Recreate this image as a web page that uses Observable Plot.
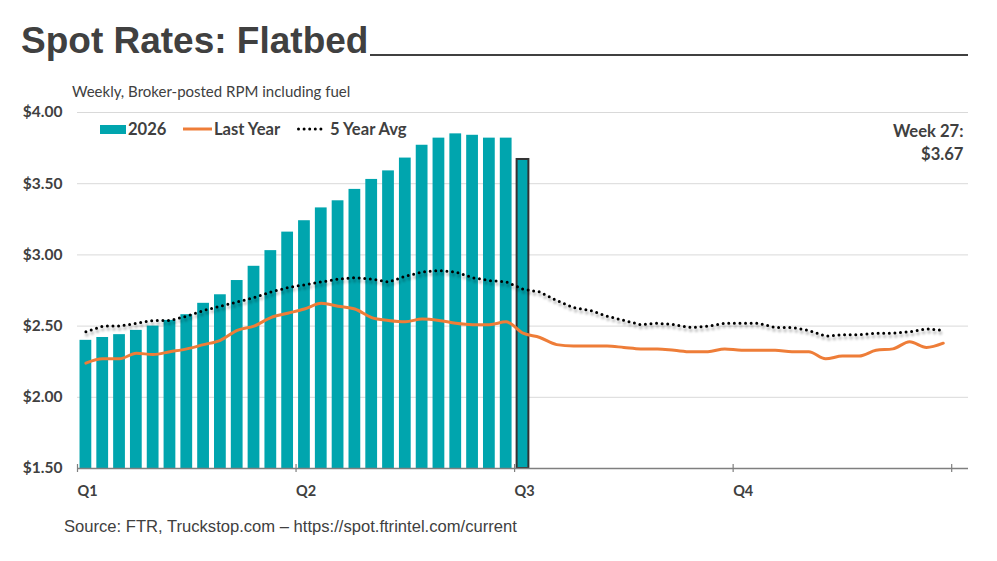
<!DOCTYPE html>
<html>
<head>
<meta charset="utf-8">
<script src="https://cdn.jsdelivr.net/npm/d3@7"></script>
<script src="https://cdn.jsdelivr.net/npm/@observablehq/plot@0.6"></script>
<style>
  html, body { margin: 0; padding: 0; background: #fff; }
  #page { position: relative; width: 997px; height: 561px; overflow: hidden; color: #404040; font-family: Lato, "Open Sans", sans-serif; }
  #title { position: absolute; left: 21px; top: 19px; font: bold 37px "Liberation Sans", Arial, sans-serif; line-height: 44px; white-space: nowrap; color: #404040; }
  #rule { position: absolute; top: 54px; height: 0; border-top: 2px solid #404040; }
  #subtitle { position: absolute; left: 72px; top: 82px; font-size: 15px; line-height: 19px; white-space: nowrap; }
  #chart { position: absolute; left: 0; top: 100px; }
  .leg { position: absolute; top: 120px; height: 18px; display: flex; align-items: center; font-weight: bold; font-size: 16.6px; white-space: nowrap; }
  .leg svg { margin-right: 2px; }
  #source { position: absolute; left: 64px; top: 516px; font: 16.6px "Liberation Sans", Arial, sans-serif; line-height: 22px; white-space: nowrap; }
</style>
</head>
<body>
<div id="page">
  <div id="title">Spot Rates: Flatbed</div>
  <div id="rule"></div>
  <div id="subtitle">Weekly, Broker-posted RPM including fuel</div>
  <div id="chart"></div>
  <div class="leg" style="left:100px"><svg width="26" height="18"><rect x="0" y="5" width="26" height="9" fill="#00A5AE"/></svg><span>2026</span></div>
  <div class="leg" style="left:183px"><svg width="29" height="18"><line x1="0" x2="29" y1="9" y2="9" stroke="#EE7D38" stroke-width="3"/></svg><span>Last Year</span></div>
  <div class="leg" style="left:297px"><svg width="31" height="18"><line x1="1.5" x2="28" y1="9" y2="9" stroke="#000" stroke-width="3" stroke-linecap="round" stroke-dasharray="0 5.6"/></svg><span>5 Year Avg</span></div>
  <div id="source">Source: FTR, Truckstop.com – https://spot.ftrintel.com/current</div>
</div>
<script>
// Weekly broker-posted flatbed spot rates (USD per mile, incl. fuel)
const spot2026 = [2.40, 2.42, 2.44, 2.47, 2.50, 2.54, 2.58, 2.66, 2.72, 2.82, 2.92, 3.03, 3.16,
                  3.24, 3.33, 3.38, 3.46, 3.53, 3.59, 3.68, 3.77, 3.82, 3.85, 3.84, 3.82, 3.82, 3.67];

const lastYear = [2.24, 2.27, 2.27, 2.31, 2.30, 2.32, 2.34, 2.37, 2.40, 2.47, 2.50, 2.56, 2.59,
                  2.62, 2.66, 2.64, 2.62, 2.56, 2.54, 2.53, 2.55, 2.54, 2.52, 2.51, 2.51, 2.53,
                  2.45, 2.42, 2.37, 2.36, 2.36, 2.36, 2.35, 2.34, 2.34, 2.33, 2.32, 2.32, 2.34,
                  2.33, 2.33, 2.33, 2.32, 2.32, 2.27, 2.29, 2.29, 2.33, 2.34, 2.39, 2.35, 2.38];

const fiveYearAvg = [2.46, 2.50, 2.50, 2.52, 2.54, 2.54, 2.57, 2.61, 2.64, 2.67, 2.70, 2.74, 2.77,
                     2.79, 2.81, 2.83, 2.84, 2.83, 2.81, 2.85, 2.88, 2.89, 2.88, 2.84, 2.82, 2.81,
                     2.76, 2.74, 2.68, 2.63, 2.61, 2.57, 2.54, 2.51, 2.52, 2.51, 2.49, 2.50, 2.52,
                     2.52, 2.52, 2.49, 2.49, 2.47, 2.43, 2.44, 2.44, 2.45, 2.45, 2.46, 2.48, 2.47];

const yTicks = [1.5, 2.0, 2.5, 3.0, 3.5, 4.0];
const quarterLabels = ["Q1", "Q2", "Q3", "Q4"];
const weeksPerQuarter = 13;

const teal = "#00A5AE";
const orange = "#EE7D38";
const ink = "#404040";
const axisGray = "#7f7f7f";

const toRows = arr => arr.map((value, i) => ({week: i + 1, value}));
const bars = toRows(spot2026);
const latest = bars[bars.length - 1];
const prior = toRows(lastYear);
const avg = toRows(fiveYearAvg);

const quarterBounds = d3.range(0, 4 * weeksPerQuarter + 1, weeksPerQuarter);
const quarterStarts = quarterBounds.slice(0, 4);

// week n occupies the interval [n-1, n]; marks sit at its midpoint
const mid = d => d.week - 0.5;
const half = 0.35;

const chart = Plot.plot({
  width: 997,
  height: 410,
  marginTop: 12,
  marginBottom: 42,
  marginLeft: 77,
  marginRight: 29,
  style: {fontFamily: "Lato, 'Open Sans', sans-serif", color: ink, background: "transparent", overflow: "visible"},
  x: {domain: [0, 4 * weeksPerQuarter + 1]},
  y: {domain: [yTicks[0], yTicks[yTicks.length - 1]]},
  marks: [
    Plot.gridY({ticks: yTicks, stroke: "#d9d9d9", strokeOpacity: 1}),
    Plot.axisY({ticks: yTicks, tickSize: 0, tickPadding: 15, label: null,
                tickFormat: d => "$" + d.toFixed(2), fontSize: 15.5, fontWeight: "bold", fill: ink}),
    Plot.rectY(bars, {x1: d => mid(d) - half, x2: d => mid(d) + half, y1: yTicks[0], y2: "value", fill: teal}),
    Plot.rectY([latest], {x1: d => mid(d) - half, x2: d => mid(d) + half, y1: yTicks[0], y2: "value",
                          fill: teal, stroke: "#333", strokeWidth: 2}),
    // soft shadow under the dotted average
    Plot.line(avg, {x: mid, y: "value", dx: 1, dy: 3, stroke: "#000", strokeOpacity: 0.22, strokeWidth: 4,
                    strokeDasharray: "0 5.6", strokeLinecap: "round", imageFilter: "blur(1.3px)"}),
    Plot.line(prior, {x: mid, y: "value", stroke: orange, strokeWidth: 3, curve: "monotone-x"}),
    Plot.line(avg, {x: mid, y: "value", stroke: "#000", strokeWidth: 3,
                    strokeDasharray: "0 5.6", strokeLinecap: "round"}),
    Plot.ruleY([yTicks[0]], {stroke: axisGray, strokeWidth: 1.3}),
    Plot.ruleX(quarterBounds, {x: d => d, y1: yTicks[0], y2: yTicks[0], insetTop: -4, insetBottom: -4,
                               stroke: axisGray, strokeWidth: 1.2}),
    Plot.axisX({ticks: quarterStarts, tickSize: 0, tickPadding: 17, label: null, textAnchor: "start",
                tickFormat: d => quarterLabels[Math.round(d / weeksPerQuarter)],
                fontSize: 14.5, fontWeight: "bold", fill: ink}),
    Plot.text([latest], {frameAnchor: "top-right", dx: -5, dy: 9, textAnchor: "end", lineHeight: 1.35,
                         text: d => `Week ${d.week}:\n$${d.value.toFixed(2)}`,
                         fontSize: 16.6, fontWeight: "bold", fill: ink})
  ]
});
document.getElementById("chart").appendChild(chart);

// underline runs from the end of the title to the right edge of the plot
const title = document.getElementById("title");
const rule = document.getElementById("rule");
const start = title.offsetLeft + title.offsetWidth + 2;
rule.style.left = start + "px";
rule.style.width = (968 - start) + "px";
</script>
</body>
</html>
